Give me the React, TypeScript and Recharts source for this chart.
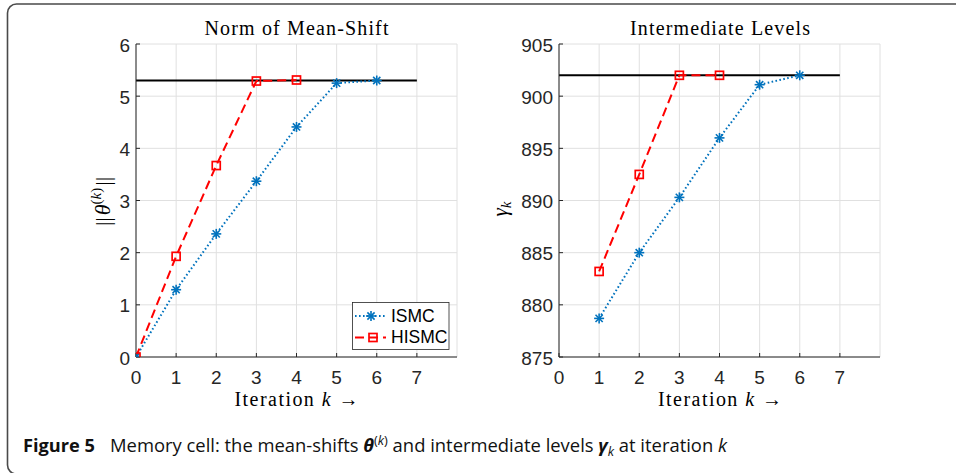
import React from "react";
import {
  CartesianGrid,
  Line,
  LineChart,
  ReferenceLine,
  XAxis,
  YAxis,
} from "recharts";

// x axis (iteration k)
const iterationTicks = [0, 1, 2, 3, 4, 5, 6, 7];
const iterationDomain = [0, 8];
const targetSpan = [0, 7];

// left panel: norm of mean-shift
const normTicks = [0, 1, 2, 3, 4, 5, 6];
const normDomain = [0, 6];
const ismcNormK = [0, 1, 2, 3, 4, 5, 6];
const ismcNorm = [0, 1.29, 2.36, 3.37, 4.41, 5.25, 5.3];
const hismcNormK = [0, 1, 2, 3, 4];
const hismcNorm = [0, 1.93, 3.67, 5.29, 5.31];
const normTarget = 5.3;

// right panel: intermediate levels
const levelTicks = [875, 880, 885, 890, 895, 900, 905];
const levelDomain = [875, 905];
const ismcLevelK = [1, 2, 3, 4, 5, 6];
const ismcLevel = [878.7, 885.0, 890.3, 896.0, 901.1, 902.0];
const hismcLevelK = [1, 2, 3, 4];
const hismcLevel = [883.2, 892.5, 902.0, 902.0];
const levelTarget = 902.0;

const BLUE = "#0072BD";
const RED = "#FF0000";
const AXIS = "#262626";
const SANS = "'Liberation Sans', Arial, sans-serif";
const SERIF = "'Liberation Serif', 'Times New Roman', serif";
const CAPTION = "'Open Sans', 'Noto Sans', sans-serif";

const toPoints = (ks: number[], vs: number[]) =>
  ks.map((k, i) => ({ k, v: vs[i] }));

function AsteriskDot(props: any) {
  const { cx, cy } = props;
  if (cx == null || cy == null) return null;
  const r = 5;
  const d = r * 0.72;
  return (
    <g stroke={BLUE} strokeWidth={1.6} strokeDasharray="none">
      <line x1={cx - r} y1={cy} x2={cx + r} y2={cy} />
      <line x1={cx} y1={cy - r} x2={cx} y2={cy + r} />
      <line x1={cx - d} y1={cy - d} x2={cx + d} y2={cy + d} />
      <line x1={cx - d} y1={cy + d} x2={cx + d} y2={cy - d} />
    </g>
  );
}

function SquareDot(props: any) {
  const { cx, cy } = props;
  if (cx == null || cy == null) return null;
  return (
    <rect
      x={cx - 4}
      y={cy - 4}
      width={8}
      height={8}
      fill="none"
      stroke={RED}
      strokeWidth={1.7}
      strokeDasharray="none"
    />
  );
}

function XTick(props: any) {
  const { x, y, payload } = props;
  return (
    <text
      x={x}
      y={y + 13.5}
      textAnchor="middle"
      fontFamily={SANS}
      fontSize={19}
      fill={AXIS}
    >
      {payload.value}
    </text>
  );
}

function YTick(props: any) {
  const { x, y, payload } = props;
  return (
    <text
      x={x}
      y={y + 7.5}
      textAnchor="end"
      fontFamily={SANS}
      fontSize={19}
      fill={AXIS}
    >
      {payload.value}
    </text>
  );
}

type PanelProps = {
  left: number;
  yDomain: number[];
  yTicks: number[];
  ismc: { k: number; v: number }[];
  hismc: { k: number; v: number }[];
  target: number;
};

function Panel({ left, yDomain, yTicks, ismc, hismc, target }: PanelProps) {
  return (
    <div style={{ position: "absolute", left, top: 0 }}>
      <LineChart
        width={470}
        height={420}
        margin={{ top: 44, right: 13, left: 0, bottom: 13 }}
      >
        <CartesianGrid stroke="#e0e0e0" strokeWidth={1} />
        <XAxis
          dataKey="k"
          type="number"
          domain={iterationDomain}
          ticks={iterationTicks}
          allowDataOverflow
          height={50}
          stroke={AXIS}
          tickSize={-4}
          tickMargin={17}
          tick={<XTick />}
        />
        <XAxis
          xAxisId="top"
          orientation="top"
          type="number"
          domain={iterationDomain}
          ticks={iterationTicks}
          allowDataOverflow
          height={0}
          stroke={AXIS}
          tickSize={-4}
          tick={false}
        />
        <YAxis
          type="number"
          domain={yDomain}
          ticks={yTicks}
          allowDataOverflow
          width={136}
          stroke={AXIS}
          tickSize={-4}
          tickMargin={10}
          tick={<YTick />}
        />
        <YAxis
          yAxisId="right"
          orientation="right"
          type="number"
          domain={yDomain}
          ticks={yTicks}
          allowDataOverflow
          width={0}
          stroke={AXIS}
          tickSize={-4}
          tick={false}
        />
        <ReferenceLine
          segment={[
            { x: targetSpan[0], y: target },
            { x: targetSpan[1], y: target },
          ]}
          stroke="#000"
          strokeWidth={2}
          ifOverflow="visible"
        />
        <Line
          data={ismc}
          dataKey="v"
          type="linear"
          stroke={BLUE}
          strokeWidth={2}
          strokeDasharray="1.6 2.4"
          dot={<AsteriskDot />}
          isAnimationActive={false}
        />
        <Line
          data={hismc}
          dataKey="v"
          type="linear"
          stroke={RED}
          strokeWidth={2}
          strokeDasharray="9 5"
          dot={<SquareDot />}
          isAnimationActive={false}
        />
      </LineChart>
    </div>
  );
}

function Overlay() {
  return (
    <svg
      width={956}
      height={473}
      style={{ position: "absolute", left: 0, top: 0, pointerEvents: "none" }}
    >
      {/* figure frame */}
      <rect
        x={7.5}
        y={4}
        width={1000}
        height={470}
        rx={9}
        fill="none"
        stroke="#4a4a4a"
        strokeWidth={1.6}
      />

      {/* titles */}
      <text
        x={296.5}
        y={35}
        textAnchor="middle"
        fontFamily={SERIF}
        fontSize={20}
        fill="#000"
        textLength={184}
        lengthAdjust="spacing"
      >
        Norm of Mean-Shift
      </text>
      <text
        x={720}
        y={35}
        textAnchor="middle"
        fontFamily={SERIF}
        fontSize={20}
        fill="#000"
        textLength={180}
        lengthAdjust="spacing"
      >
        Intermediate Levels
      </text>

      {/* x labels */}
      {[296.5, 720].map((cx) => (
        <text
          key={cx}
          x={cx}
          y={406}
          textAnchor="middle"
          fontFamily={SERIF}
          fontSize={20}
          fill="#000"
          textLength={124}
          lengthAdjust="spacing"
        >
          Iteration <tspan fontStyle="italic">k</tspan> →
        </text>
      ))}

      {/* y labels */}
      <text
        transform="translate(110,201.5) rotate(-90)"
        textAnchor="middle"
        fontFamily={SERIF}
        fontSize={22}
        fill="#000"
      >
        ||<tspan fontStyle="italic" dx={2}>θ</tspan>
        <tspan fontSize={15} dy={-9}>
          (<tspan fontStyle="italic">k</tspan>)
        </tspan>
        <tspan dy={9} dx={2}>||</tspan>
      </text>
      <text
        transform="translate(507,209) rotate(-90)"
        textAnchor="middle"
        fontFamily={SERIF}
        fontSize={21}
        fill="#000"
      >
        <tspan fontStyle="italic">γ</tspan>
        <tspan fontStyle="italic" fontSize={15} dy={4}>
          k
        </tspan>
      </text>

      {/* legend */}
      <rect
        x={352.5}
        y={302.5}
        width={96.5}
        height={47}
        fill="#fff"
        stroke={AXIS}
        strokeWidth={0.8}
      />
      <line
        x1={355}
        y1={316}
        x2={386}
        y2={316}
        stroke={BLUE}
        strokeWidth={2}
        strokeDasharray="1.6 2.4"
      />
      <AsteriskDot cx={371} cy={316} />
      <text x={391} y={321.5} fontFamily={SANS} fontSize={17.5} fill="#000">
        ISMC
      </text>
      <line
        x1={355}
        y1={337.5}
        x2={386}
        y2={337.5}
        stroke={RED}
        strokeWidth={2}
        strokeDasharray="9 5"
      />
      <SquareDot cx={373} cy={337.5} />
      <text x={391} y={343} fontFamily={SANS} fontSize={17.5} fill="#000">
        HISMC
      </text>

      {/* caption */}
      <text
        x={23}
        y={452}
        fontFamily={CAPTION}
        fontSize={18}
        fontWeight="bold"
        fill="#111"
        textLength={72}
        lengthAdjust="spacingAndGlyphs"
      >
        Figure 5
      </text>
      <text
        x={110}
        y={452}
        fontFamily={CAPTION}
        fontSize={18}
        fill="#111"
        textLength={617}
        lengthAdjust="spacingAndGlyphs"
      >
        Memory cell: the mean-shifts{" "}
        <tspan fontWeight="bold" fontStyle="italic">
          θ
        </tspan>
        <tspan fontSize={12.5} dy={-7}>
          (<tspan fontStyle="italic">k</tspan>)
        </tspan>
        <tspan dy={7}> and intermediate levels </tspan>
        <tspan fontWeight="bold" fontStyle="italic">
          γ
        </tspan>
        <tspan fontSize={12.5} fontStyle="italic" dy={4}>
          k
        </tspan>
        <tspan dy={-4}> at iteration </tspan>
        <tspan fontStyle="italic">k</tspan>
      </text>
    </svg>
  );
}

export default function App() {
  return (
    <div
      style={{
        position: "absolute",
        left: 0,
        top: 0,
        width: 956,
        height: 473,
        background: "#fff",
        overflow: "hidden",
      }}
    >
      <Panel
        left={0}
        yDomain={normDomain}
        yTicks={normTicks}
        ismc={toPoints(ismcNormK, ismcNorm)}
        hismc={toPoints(hismcNormK, hismcNorm)}
        target={normTarget}
      />
      <Panel
        left={423}
        yDomain={levelDomain}
        yTicks={levelTicks}
        ismc={toPoints(ismcLevelK, ismcLevel)}
        hismc={toPoints(hismcLevelK, hismcLevel)}
        target={levelTarget}
      />
      <Overlay />
    </div>
  );
}
